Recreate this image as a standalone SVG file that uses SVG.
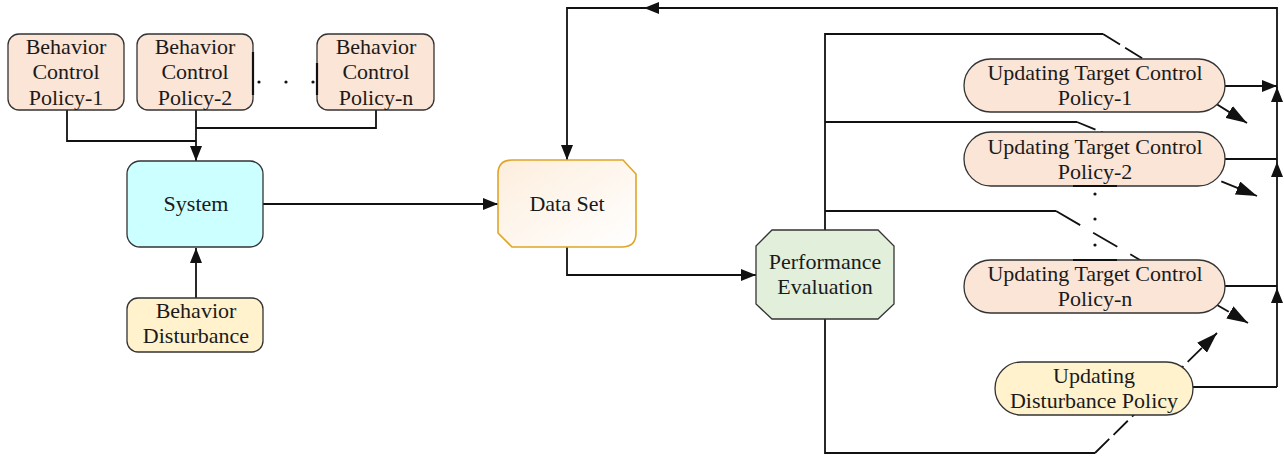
<svg xmlns="http://www.w3.org/2000/svg" width="1284" height="457" viewBox="0 0 1284 457">
<style>
.t{font-family:"Liberation Serif","Times New Roman",serif;font-size:22px;fill:#1a1a1a;text-anchor:middle}
.ln{fill:none;stroke:#111;stroke-width:1.8}
.dl{fill:none;stroke:#111;stroke-width:1.8;stroke-dasharray:20 6}
.peach{fill:#fbe5d6;stroke:#333;stroke-width:1.3}
.yel{fill:#fff2cc;stroke:#333;stroke-width:1.3}
.dot{fill:#111}
.edge{stroke:#111;stroke-width:2.2}
</style>
<defs>
<marker id="ar" markerWidth="16" markerHeight="12" refX="15" refY="6" orient="auto" markerUnits="userSpaceOnUse">
<path d="M0,0 L15,6 L0,12 Z" fill="#111"/>
</marker>
<marker id="ar2" markerWidth="22" markerHeight="14" refX="21" refY="7" orient="auto" markerUnits="userSpaceOnUse">
<path d="M0,0 L21,7 L0,14 Z" fill="#111"/>
</marker>
<linearGradient id="ds" x1="0" y1="0" x2="1" y2="1">
<stop offset="0" stop-color="#fdeedd"/>
<stop offset="1" stop-color="#ffffff"/>
</linearGradient>
</defs>
<rect width="1284" height="457" fill="#fff"/>

<g id="connectors">
<path class="ln" d="M67,110 V141 H196"/>
<path class="ln" d="M376,110 V128 H196"/>
<path class="ln" d="M196,110 V161" marker-end="url(#ar)"/>
<path class="ln" d="M196,298 V248" marker-end="url(#ar)"/>
<path class="ln" d="M263,204 H498" marker-end="url(#ar)"/>
<path class="ln" d="M567,247 V275 H756" marker-end="url(#ar)"/>
<path class="ln" d="M1277,387 V288" marker-end="url(#ar)"/>
<path class="ln" d="M1277,288 V162" marker-end="url(#ar)"/>
<path class="ln" d="M1277,162 V87" marker-end="url(#ar)"/>
<path class="ln" d="M1277,88 V8 H644" marker-end="url(#ar)"/>
<path class="ln" d="M650,8 H567 V160" marker-end="url(#ar)"/>
<path class="ln" d="M1225,86 H1277" marker-end="url(#ar)"/>
<path class="ln" d="M1225,159 H1277"/>
<path class="ln" d="M1225,286 H1277"/>
<path class="ln" d="M1193,387 H1277"/>
<path class="ln" d="M825,230 V34 H1103"/>
<path class="ln" d="M825,122 H1077"/>
<path class="ln" d="M825,211 H1056"/>
<path class="ln" d="M825,319 V453 H1095"/>
<path class="dl" d="M1103,34 L1247,123" marker-end="url(#ar2)"/>
<path class="dl" d="M1077,122 L1257,196" marker-end="url(#ar2)"/>
<path class="ln" style="stroke-dasharray:28 15" d="M1056,211 L1248,323" marker-end="url(#ar2)"/>
<path class="dl" d="M1095,453 L1217,333" marker-end="url(#ar2)"/>
</g>

<g id="bcp1">
<rect class="peach" x="8" y="34" width="116" height="76" rx="11"/>
<text class="t" x="66" y="53.5">Behavior</text>
<text class="t" x="66" y="79">Control</text>
<text class="t" x="66" y="104.5">Policy-1</text>
</g>
<g id="bcp2">
<rect class="peach" x="137" y="34" width="116" height="76" rx="11"/>
<text class="t" x="195" y="53.5">Behavior</text>
<text class="t" x="195" y="79">Control</text>
<text class="t" x="195" y="104.5">Policy-2</text>
</g>
<g id="bcpn">
<rect class="peach" x="317" y="34" width="117" height="76" rx="11"/>
<text class="t" x="376" y="53.5">Behavior</text>
<text class="t" x="376" y="79">Control</text>
<text class="t" x="376" y="104.5">Policy-n</text>
</g>
<g id="ellipsis-top">
<line class="edge" x1="253" y1="52" x2="253" y2="95"/>
<line class="edge" x1="317" y1="63" x2="317" y2="95"/>
<circle class="dot" cx="259" cy="82" r="1.6"/>
<circle class="dot" cx="286" cy="82" r="1.6"/>
<circle class="dot" cx="313" cy="82" r="1.6"/>
</g>

<g id="system">
<rect x="127" y="161" width="136" height="86" rx="13" fill="#ccffff" stroke="#333" stroke-width="1.3"/>
<text class="t" x="196" y="211">System</text>
</g>
<g id="behavior-disturbance">
<rect class="yel" x="127" y="298" width="136" height="54" rx="11"/>
<text class="t" x="196" y="318">Behavior</text>
<text class="t" x="196" y="343">Disturbance</text>
</g>

<g id="dataset">
<path d="M512,160 H623 L636,174 V233 Q636,247 622,247 H512 L498,233 V174 Q498,160 512,160 Z" fill="url(#ds)" stroke="#e0a526" stroke-width="1.6"/>
<text class="t" x="567" y="211">Data Set</text>
</g>

<g id="performance-evaluation">
<path d="M772,230 H878 L894,246 V304 L878,319 H772 L756,304 V246 Z" fill="#e2efda" stroke="#333" stroke-width="1.3"/>
<text class="t" x="825" y="269">Performance</text>
<text class="t" x="825" y="294">Evaluation</text>
</g>

<g id="utcp1">
<rect class="peach" x="964" y="59" width="261" height="53" rx="26.5"/>
<text class="t" x="1095" y="80">Updating Target Control</text>
<text class="t" x="1095" y="105">Policy-1</text>
</g>
<g id="utcp2">
<rect class="peach" x="964" y="132" width="261" height="54" rx="27"/>
<text class="t" x="1095" y="153.5">Updating Target Control</text>
<text class="t" x="1095" y="178.5">Policy-2</text>
</g>
<g id="utcpn">
<rect class="peach" x="964" y="260" width="261" height="53" rx="26.5"/>
<text class="t" x="1095" y="281">Updating Target Control</text>
<text class="t" x="1095" y="306">Policy-n</text>
</g>
<g id="udp">
<rect class="yel" x="995" y="362" width="198" height="53" rx="26.5"/>
<text class="t" x="1094" y="383">Updating</text>
<text class="t" x="1094" y="408">Disturbance Policy</text>
</g>

<g id="ellipsis-right">
<line class="edge" x1="1073" y1="186" x2="1117" y2="186"/>
<line class="edge" x1="1073" y1="260" x2="1117" y2="260"/>
<circle class="dot" cx="1095" cy="194" r="1.6"/>
<circle class="dot" cx="1095" cy="219" r="1.6"/>
<circle class="dot" cx="1095" cy="245" r="1.6"/>
</g>
</svg>
